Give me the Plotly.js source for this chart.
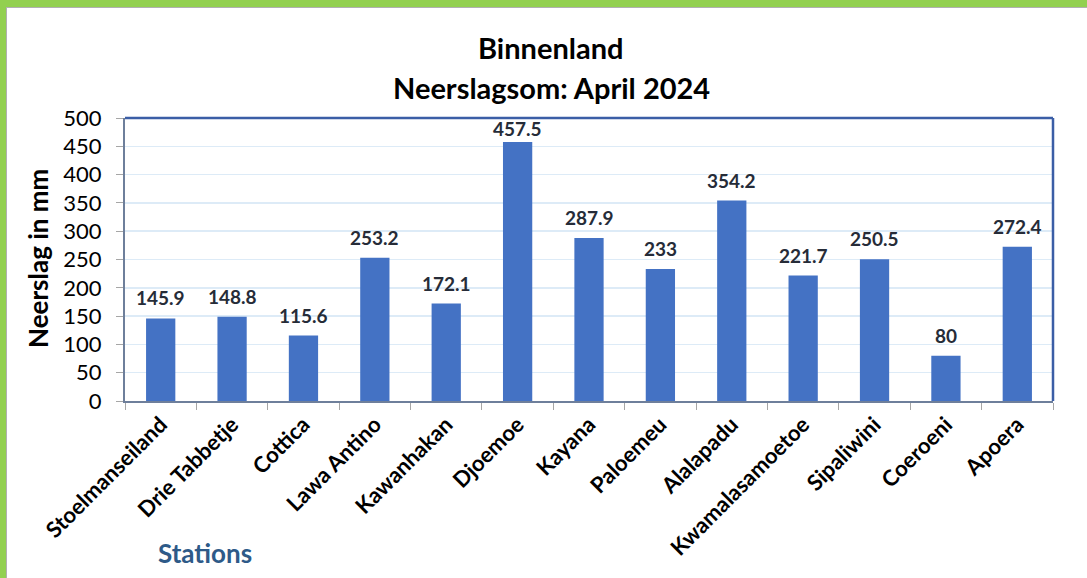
<!DOCTYPE html>
<html>
<head>
<meta charset="utf-8">
<script src="https://cdn.plot.ly/plotly-3.0.1.min.js"></script>
<style>
  html, body { margin: 0; padding: 0; background: #ffffff; }
  #wrap { position: relative; width: 1087px; height: 578px; overflow: hidden; }
  #chart { position: absolute; left: 0; top: 0; width: 1087px; height: 578px; }
  #gtop { position: absolute; left: 0; top: 0; width: 1087px; height: 7px; background: #92D050; }
  #gtopline { position: absolute; left: 6px; top: 7px; width: 1081px; height: 1px; background: #b0b0b0; }
  #gleft { position: absolute; left: 0; top: 0; width: 6px; height: 578px; background: #92D050; }
  #gleftline { position: absolute; left: 6px; top: 7px; width: 1px; height: 571px; background: #b0b0b0; }
</style>
</head>
<body>
<div id="wrap">
  <div id="chart"></div>
  <div id="gtop"></div>
  <div id="gtopline"></div>
  <div id="gleft"></div>
  <div id="gleftline"></div>
</div>
<script>
const stations = ["Stoelmanseiland", "Drie Tabbetje", "Cottica", "Lawa Antino", "Kawanhakan", "Djoemoe", "Kayana", "Paloemeu", "Alalapadu", "Kwamalasamoetoe", "Sipaliwini", "Coeroeni", "Apoera"];
const rainfall = [145.9, 148.8, 115.6, 253.2, 172.1, 457.5, 287.9, 233, 354.2, 221.7, 250.5, 80, 272.4];
const yTicks = [0, 50, 100, 150, 200, 250, 300, 350, 400, 450, 500];
const titleLines = ["Binnenland", "Neerslagsom: April 2024"];

const FONT = "Lato, 'Open Sans', 'Liberation Sans', sans-serif";
const PLOT_H = 283, PLOT_W = 928, PLOT_L = 125, PLOT_B = 401;
const Y_MAX = 500;
const px2x = px => (px - PLOT_L) / PLOT_W;
const py2y = py => (PLOT_B - py) / PLOT_H;

const trace = {
  type: "bar",
  x: stations,
  y: rainfall,
  marker: { color: "#4472C4" },
  hoverinfo: "x+y"
};

// labels sit above bars; a label that would poke out of the plot top is nudged down (as Excel does)
const labelAnns = stations.map((s, i) => {
  const fits = rainfall[i] / Y_MAX * PLOT_H + 7 + 22 <= PLOT_H;
  return {
    x: s, y: rainfall[i], xref: "x", yref: "y",
    text: "<b>" + rainfall[i] + "</b>",
    showarrow: false, yanchor: "bottom", yshift: fits ? 7 : 0,
    font: { family: FONT, size: 19, color: "#262C38" }
  };
});

const titleAnns = [
  { xref: "paper", yref: "paper", x: px2x(551), y: py2y(47), xanchor: "center", yanchor: "middle",
    text: "<b>" + titleLines[0] + "</b>", showarrow: false,
    font: { family: FONT, size: 29, color: "#000000" } },
  { xref: "paper", yref: "paper", x: px2x(551), y: py2y(88), xanchor: "center", yanchor: "middle",
    text: "<b>" + titleLines[1] + "</b>", showarrow: false,
    font: { family: FONT, size: 29, color: "#000000" } }
];

const layout = {
  width: 1087, height: 578,
  margin: { l: 125, r: 34, t: 118, b: 177 },
  paper_bgcolor: "rgba(0,0,0,0)",
  plot_bgcolor: "#ffffff",
  bargap: 0.59,
  showlegend: false,
  xaxis: {
    type: "category",
    tickangle: -45,
    tickson: "boundaries",
    ticks: "outside", ticklen: 7, tickcolor: "#a6a6a6", tickwidth: 1,
    tickfont: { family: FONT, size: 22, color: "#000000", weight: "bold" },
    showline: true, linecolor: "#6E7F9B", linewidth: 2,
    showgrid: false, automargin: false
  },
  yaxis: {
    range: [0, Y_MAX],
    tickvals: yTicks,
    ticktext: yTicks.map(String),
    ticks: "outside", ticklen: 7, tickcolor: "#a6a6a6", tickwidth: 1,
    ticklabelstandoff: 10,
    tickfont: { family: FONT, size: 22, color: "#000000" },
    showline: true, linecolor: "#6E7F9B", linewidth: 2,
    showgrid: true, gridcolor: "#DDEBF7", gridwidth: 1.5,
    zeroline: false, automargin: false
  },
  shapes: [
    { type: "line", xref: "paper", yref: "paper", x0: 0, x1: 1, y0: 1, y1: 1,
      line: { color: "#3B5EA6", width: 2.5 } },
    { type: "line", xref: "paper", yref: "paper", x0: 1, x1: 1, y0: 0, y1: 1,
      line: { color: "#3B5EA6", width: 2.5 } }
  ],
  annotations: labelAnns.concat(titleAnns, [
    { xref: "paper", yref: "paper",
      x: px2x(38), y: py2y(259), xanchor: "center", yanchor: "middle",
      text: "<b>Neerslag in mm</b>", textangle: -90, showarrow: false,
      font: { family: FONT, size: 26, color: "#000000" } },
    { xref: "paper", yref: "paper",
      x: px2x(205), y: py2y(553), xanchor: "center", yanchor: "middle",
      text: "<b>Stations</b>", showarrow: false,
      font: { family: FONT, size: 26, color: "#2E5A88" } }
  ])
};

Plotly.newPlot("chart", [trace], layout, { displayModeBar: false, staticPlot: true });
</script>
</body>
</html>
